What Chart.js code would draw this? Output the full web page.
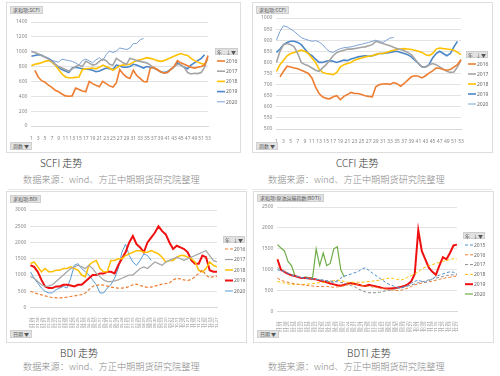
<!DOCTYPE html>
<html>
<head>
<meta charset="utf-8">
<script src="https://cdn.jsdelivr.net/npm/chart.js@4.4.0/dist/chart.umd.min.js"></script>
<style>
body{margin:0;width:500px;height:376px;background:#fff;position:relative;overflow:hidden;font-family:"Noto Sans CJK SC",sans-serif}
.card{position:absolute;border:1px solid #dedede;background:#fff;box-sizing:border-box}
.card .box{position:absolute;left:0;top:0}
.btn{position:absolute;background:#e2e2e2;color:#555;font-size:5px;line-height:6px;padding:0 2px;border:1px solid #d0d0d0;white-space:nowrap;z-index:2}
.cap{position:absolute;font-size:10px;line-height:14px;color:#333;font-weight:300;white-space:nowrap}
.src{position:absolute;font-size:9.2px;line-height:14px;color:#888;font-weight:300;white-space:nowrap}
.sep{position:absolute;height:1px;background:#e8e8e8}
</style>
</head>
<body>

<div class="card" style="left:6px;top:2px;width:235px;height:151px">
  <div class="box" style="width:233px;height:149px"><canvas id="scfi"></canvas></div>
</div>
<div class="btn" style="left:10px;top:6px">求和项:SCFI</div>
<div class="btn" style="left:10px;top:142px">周数 ▼</div>
<div class="cap" style="left:40px;top:156px">SCFI 走势</div>
<div class="src" style="left:23px;top:172px">数据来源：wind、方正中期期货研究院整理</div>
<div class="sep" style="left:8px;top:189px;width:238px"></div>

<div class="card" style="left:252px;top:2px;width:241px;height:151px">
  <div class="box" style="width:239px;height:149px"><canvas id="ccfi"></canvas></div>
</div>
<div class="btn" style="left:256px;top:6px">求和项:CCFI</div>
<div class="btn" style="left:256px;top:142px">周数 ▼</div>
<div class="cap" style="left:336px;top:156px">CCFI 走势</div>
<div class="src" style="left:268px;top:172px">数据来源：wind、方正中期期货研究院整理</div>
<div class="sep" style="left:252px;top:189px;width:240px"></div>

<div class="card" style="left:6px;top:191px;width:241px;height:152px">
  <div class="box" style="width:239px;height:150px"><canvas id="bdi"></canvas></div>
</div>
<div class="btn" style="left:10px;top:195px">求和项:BDI</div>
<div class="btn" style="left:10px;top:330px">日期 ▼</div>
<div class="cap" style="left:60px;top:346px">BDI 走势</div>
<div class="src" style="left:23px;top:359px">数据来源：wind、方正中期期货研究院整理</div>

<div class="card" style="left:253px;top:191px;width:241px;height:152px">
  <div class="box" style="width:239px;height:150px"><canvas id="bdti"></canvas></div>
</div>
<div class="btn" style="left:257px;top:194px">求和项:原油运输指数(BDTI)</div>
<div class="btn" style="left:257px;top:330px">日期 ▼</div>
<div class="cap" style="left:347px;top:346px">BDTI 走势</div>
<div class="src" style="left:268px;top:359px">数据来源：wind、方正中期期货研究院整理</div>

<script>
// weeks of the year (SCFI / CCFI)
var weeks = [1,2,3,4,5,6,7,8,9,10,11,12,13,14,15,16,17,18,19,20,21,22,23,24,25,26,27,
  28,29,30,31,32,33,34,35,36,37,38,39,40,41,42,43,44,45,46,47,48,49,50,51,52,53];
// weekly dates (BDI / BDTI)
var days = ['01-04','01-11','01-18','01-25','02-01','02-08','02-15','02-22','03-01','03-08','03-15','03-22','03-29',
  '04-05','04-12','04-19','04-26','05-03','05-10','05-17','05-24','05-31','06-07','06-14','06-21','06-28',
  '07-05','07-12','07-19','07-26','08-02','08-09','08-16','08-23','08-30','09-06','09-13','09-20','09-27',
  '10-04','10-11','10-18','10-25','11-01','11-08','11-15','11-22','11-29','12-06','12-13','12-20','12-27'];

var scfi2016 = [null,750,660,610,590,550,520,480,460,430,405,400,405,510,490,470,460,600,570,550,530,600,570,540,525,580,760,700,660,640,750,680,640,600,595,780,790,760,730,715,720,760,800,880,850,830,810,790,780,790,800,820,950];
var scfi2017 = [1000,990,970,950,930,900,870,830,800,780,760,740,770,800,820,800,870,850,820,830,870,900,880,830,820,910,880,850,830,910,900,880,870,860,850,820,780,760,730,710,720,760,800,830,820,790,720,700,710,705,720,790,940];
var scfi2018 = [810,830,840,850,870,880,860,820,760,700,660,650,650,655,660,760,770,775,780,770,790,820,800,780,750,780,810,820,825,830,860,880,890,905,920,910,900,880,870,880,900,920,940,960,975,960,950,910,880,860,840,830,900];
var scfi2019 = [940,950,960,950,930,910,880,830,790,760,740,720,780,790,780,770,770,760,750,730,740,760,780,770,760,820,810,790,790,800,830,820,800,780,800,790,780,760,730,720,730,760,800,850,820,790,770,820,850,880,910,960,null];
var scfi2020 = [1010,990,970,960,930,900,880,870,860,900,890,880,870,850,820,880,900,880,850,890,920,880,960,1010,990,1010,1050,1040,1030,1050,1110,1110,1160,1180];

var ccfi2016 = [null,735,760,783,779,775,771,765,758,750,730,690,660,645,638,636,645,650,632,647,655,665,660,660,655,650,647,645,690,700,703,704,701,709,704,693,705,720,735,740,738,730,740,752,762,775,774,768,765,768,779,790,813];
var ccfi2017 = [800,850,880,885,880,870,840,800,790,785,775,765,760,775,790,810,830,845,850,855,860,860,862,865,868,870,875,880,895,890,885,880,875,868,862,858,852,845,835,815,795,780,778,788,795,790,780,770,760,755,757,780,810];
var ccfi2018 = [760,790,810,830,840,845,850,855,850,840,820,800,770,755,750,748,745,755,780,790,795,800,810,815,820,825,828,830,835,840,840,845,850,855,858,860,862,860,858,855,850,845,835,830,840,860,865,862,860,858,855,845,835];
var ccfi2019 = [845,860,880,890,895,895,890,880,860,840,830,815,800,800,805,808,805,800,805,810,808,815,820,825,828,830,828,830,835,840,840,842,845,848,850,845,840,835,825,810,795,780,780,790,820,840,850,840,830,840,870,895];
var ccfi2020 = [900,940,965,960,950,940,925,912,905,900,895,898,892,880,862,848,845,855,862,866,868,870,874,878,882,886,890,895,900,895,890,900,910,912];

var bdi2016 = [500,460,420,390,360,330,310,300,300,310,320,340,360,380,400,450,550,650,680,700,690,660,630,610,600,600,610,650,700,720,680,640,620,630,660,690,720,740,760,850,900,880,850,830,870,950,1050,1150,1000,920,950,960];
var bdi2017 = [950,900,800,700,650,660,700,800,900,1000,1100,1200,1250,1300,1250,1200,1300,1200,1050,950,850,800,800,820,850,900,950,1000,1000,1100,1200,1250,1200,1300,1400,1350,1300,1400,1450,1500,1550,1500,1450,1500,1550,1600,1650,1700,1750,1600,1450,1400];
var bdi2018 = [1350,1400,1250,1100,1200,1100,1100,1150,1150,1200,1200,1250,1200,1150,1000,950,1300,1400,1450,1200,1100,1100,1450,1450,1500,1500,1600,1650,1700,1750,1750,1700,1700,1750,1700,1650,1550,1400,1450,1450,1550,1600,1600,1550,1500,1400,1150,1100,1200,1400,1300,1250];
var bdi2019 = [1300,1250,1100,850,650,600,600,650,650,700,700,680,650,700,700,800,900,1000,1000,1050,1050,1100,1100,1050,1300,1500,1700,2000,2200,1950,1850,1700,2000,2150,2300,2500,2350,2250,2000,1800,1900,1850,1800,1700,1450,1350,1350,1600,1550,1150,1100,1100];
var bdi2020 = [1100,900,750,600,500,450,450,550,600,650,600,900,1300,1350,1200,1100,1000,850,700,450,450,600,700,900,1200,1700,1950,1600,1400,1300,1450,1650,1600,1450];

var bdti2015 = [1000,980,950,920,880,850,830,810,800,790,780,770,760,750,730,710,700,740,800,850,870,900,930,960,1020,1050,980,920,860,800,740,680,640,610,580,560,590,620,680,720,750,720,700,740,780,840,870,900,930,950,940,900];
var bdti2016 = [800,750,720,700,680,660,650,640,630,620,610,600,600,600,600,590,580,590,600,620,640,650,650,640,630,610,600,590,580,560,550,540,520,510,500,510,530,560,600,640,660,680,700,710,730,750,770,790,810,820,840,850];
var bdti2017 = [1050,1000,950,920,880,850,830,810,800,790,780,770,760,750,740,730,720,710,700,680,650,620,590,540,500,470,450,450,450,460,480,500,510,530,550,570,590,610,640,660,690,710,730,760,780,800,820,840,860,870,880,880];
var bdti2018 = [720,700,680,660,650,650,650,650,650,660,670,680,690,700,710,720,740,750,740,720,700,700,700,700,700,710,720,730,740,750,770,790,800,790,770,750,780,820,860,900,950,1020,1060,1100,1120,1150,1180,1200,1220,1250,1260,1250];
var bdti2019 = [1250,1000,950,900,870,850,820,800,800,790,780,770,740,720,700,670,650,630,620,640,670,680,660,640,620,610,640,620,600,580,560,550,550,560,570,590,610,650,720,900,1950,1450,1250,1050,950,880,1100,1300,1250,1400,1580,1600];
var bdti2020 = [1600,1520,1450,1200,1100,850,820,800,830,800,820,1500,1100,1400,1100,1150,1500,1550,1000,820];

var ORANGE = '#ED7D31', GRAY = '#A5A5A5', GOLD = '#FFC000', BLUE = '#4A86C8', LBLUE = '#7DA2D6', RED = '#F01010', GREEN = '#70AD47';

function line(label, data, color, width, dash) {
  return {
    label: label, data: data, borderColor: color, backgroundColor: color,
    borderWidth: width, borderDash: dash || [], pointRadius: 0,
    tension: 0, spanGaps: false, fill: false
  };
}

// pivot-chart style legend: gray "年" header then one line sample per dataset
function pivotLegend(x, y, w, step) {
  return {
    id: 'pivotLegend',
    afterDraw: function (chart) {
      var c = chart.ctx;
      c.save();
      c.fillStyle = '#e2e2e2';
      c.strokeStyle = '#cdcdcd';
      c.lineWidth = 1;
      c.fillRect(x, y, w, 7);
      c.strokeRect(x + 0.5, y + 0.5, w - 1, 6);
      c.fillStyle = '#555';
      c.font = '5px "Noto Sans CJK SC"';
      c.textBaseline = 'middle';
      c.fillText('年', x + 2, y + 3.7);
      c.textAlign = 'right';
      c.fillText('↓▼', x + w - 2, y + 3.7);
      c.textAlign = 'left';
      chart.data.datasets.forEach(function (ds, i) {
        var ly = y + 13 + i * step;
        c.strokeStyle = ds.borderColor;
        c.lineWidth = Math.min(ds.borderWidth, 2);
        c.setLineDash(ds.borderDash || []);
        c.beginPath();
        c.moveTo(x + 2, ly);
        c.lineTo(x + 10, ly);
        c.stroke();
        c.fillStyle = '#666';
        c.font = '5px "Noto Sans"';
        c.fillText(ds.label, x + 11, ly + 0.3);
      });
      c.restore();
    }
  };
}

function makeChart(id, labels, datasets, yMin, yMax, step, rotated, pad, legend) {
  return new Chart(document.getElementById(id), {
    type: 'line',
    data: { labels: labels, datasets: datasets },
    options: {
      responsive: true,
      maintainAspectRatio: false,
      animation: false,
      layout: { padding: pad },
      plugins: {
        tooltip: { enabled: false },
        legend: { display: false }
      },
      scales: {
        x: {
          grid: { display: false },
          border: { display: true, color: '#d9d9d9' },
          ticks: {
            autoSkip: false,
            maxRotation: rotated ? 90 : 0,
            minRotation: rotated ? 90 : 0,
            padding: 2,
            font: { size: rotated ? 4 : 5, family: 'Noto Sans' },
            color: '#888',
            callback: function (v, i) {
              if (rotated) return labels[i];
              return i % 2 === 0 ? labels[i] : '';
            }
          }
        },
        y: {
          min: yMin, max: yMax,
          grid: { color: '#e3e3e3', drawTicks: false },
          border: { display: false },
          ticks: {
            stepSize: step, padding: 4, font: { size: 5, family: 'Noto Sans' }, color: '#888',
            callback: function (v) { return String(v); }
          }
        }
      }
    },
    plugins: [legend]
  });
}

makeChart('scfi', weeks, [
  line('2016', scfi2016, ORANGE, 1.6),
  line('2017', scfi2017, GRAY, 1.6),
  line('2018', scfi2018, GOLD, 1.6),
  line('2019', scfi2019, BLUE, 1.6),
  line('2020', scfi2020, LBLUE, 1)
], 0, 1400, 200, false, { left: 5, top: 19, bottom: 8, right: 32 }, pivotLegend(208, 45, 23, 10.2));

makeChart('ccfi', weeks, [
  line('2016', ccfi2016, ORANGE, 1.6),
  line('2017', ccfi2017, GRAY, 1.6),
  line('2018', ccfi2018, GOLD, 1.6),
  line('2019', ccfi2019, BLUE, 1.6),
  line('2020', ccfi2020, LBLUE, 1)
], 500, 1000, 50, false, { left: 4, top: 15, bottom: 5, right: 31 }, pivotLegend(213, 48, 22, 10));

makeChart('bdi', days, [
  line('2016', bdi2016, ORANGE, 1.2, [3, 2]),
  line('2017', bdi2017, GRAY, 1.2),
  line('2018', bdi2018, GOLD, 1.5),
  line('2019', bdi2019, RED, 2),
  line('2020', bdi2020, '#5B9BD5', 1)
], 0, 3000, 500, true, { left: 4, top: 18, bottom: 12, right: 29 }, pivotLegend(216, 44, 22, 10.5));

makeChart('bdti', days, [
  line('2015', bdti2015, '#4F8CCB', 1, [3, 2]),
  line('2016', bdti2016, ORANGE, 1, [3, 2]),
  line('2017', bdti2017, '#8C8C8C', 1, [3, 2]),
  line('2018', bdti2018, GOLD, 1, [3, 2]),
  line('2019', bdti2019, RED, 2),
  line('2020', bdti2020, GREEN, 1.2)
], 0, 2500, 500, true, { left: 4, top: 15, bottom: 8, right: 36 }, pivotLegend(209, 40, 22, 9.8));
</script>
</body>
</html>
